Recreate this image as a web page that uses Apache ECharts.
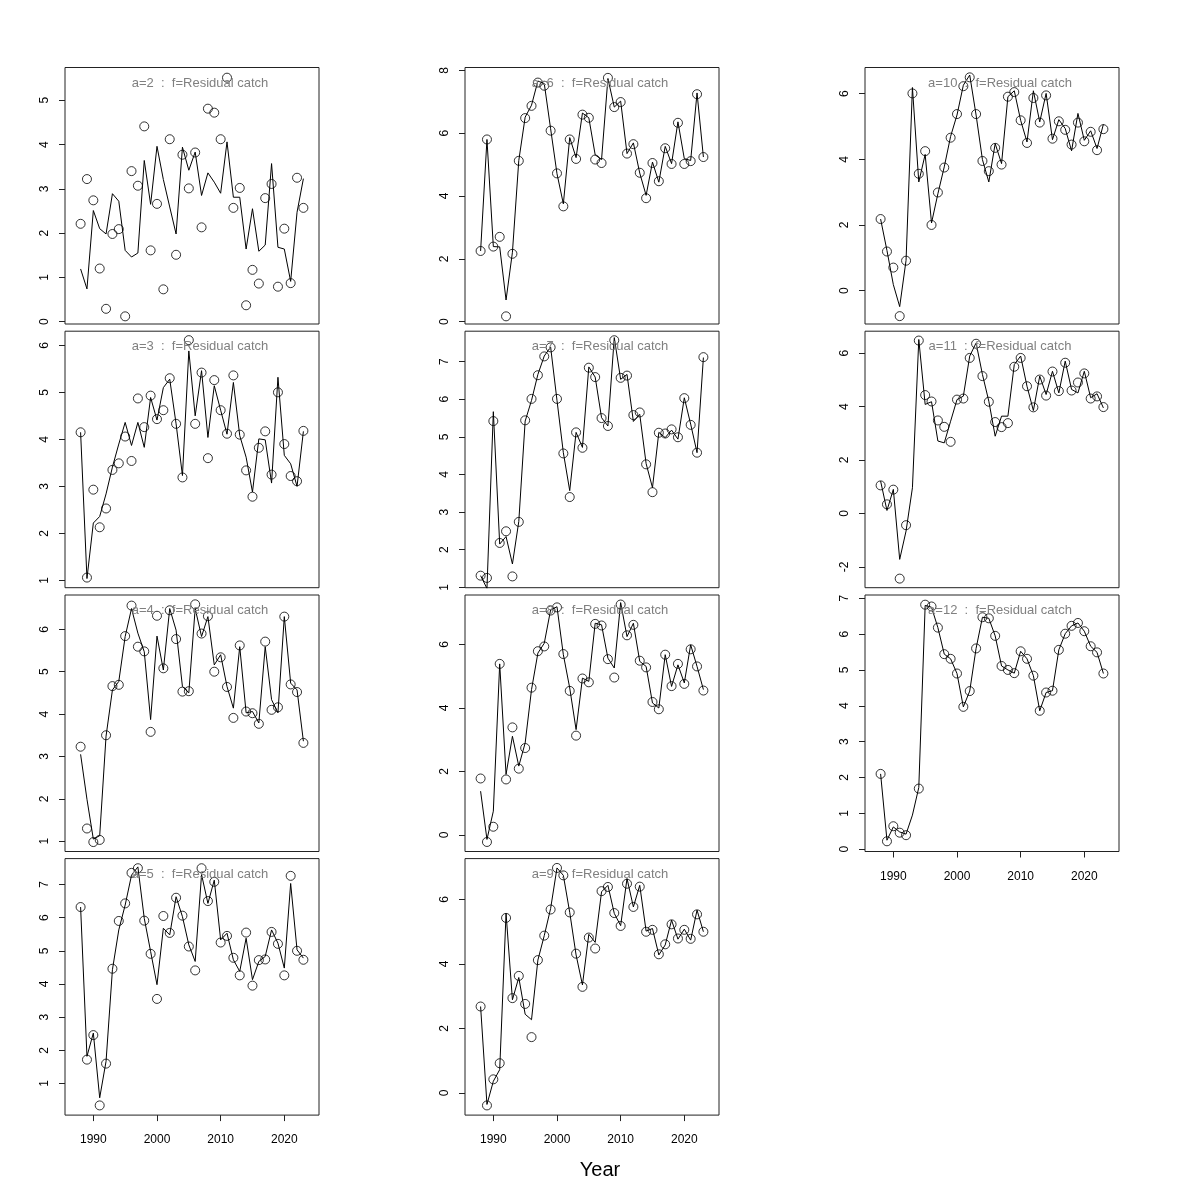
<!DOCTYPE html>
<html><head><meta charset="utf-8">
<script src="https://cdn.jsdelivr.net/npm/echarts@6/dist/echarts.min.js"></script>
<style>html,body{margin:0;padding:0;background:#fff}#c{width:1200px;height:1200px}</style>
</head><body><div id="c"></div>
<script>
// ---------------- data ----------------
const years = [1988,1989,1990,1991,1992,1993,1994,1995,1996,1997,1998,1999,2000,2001,2002,2003,2004,2005,2006,2007,2008,2009,2010,2011,2012,2013,2014,2015,2016,2017,2018,2019,2020,2021,2022,2023];
const xTicks = [1990,2000,2010,2020];

const obs_a2 = [2.21,3.22,2.74,1.20,0.29,1.98,2.09,0.12,3.40,3.07,4.41,1.61,2.66,0.73,4.12,1.51,3.77,3.01,3.82,2.13,4.81,4.72,4.12,5.51,2.57,3.02,0.37,1.17,0.86,2.79,3.11,0.79,2.10,0.87,3.25,2.57];
const fit_a2 = [1.19,0.74,2.51,2.10,1.98,2.89,2.72,1.61,1.46,1.55,3.64,2.65,3.96,3.21,2.59,1.98,3.94,3.42,3.83,2.85,3.36,3.15,2.90,4.06,2.81,2.81,1.64,2.55,1.59,1.73,3.57,1.68,1.64,0.91,2.47,3.23];
const ticks_a2 = [0,1,2,3,4,5];

const obs_a3 = [4.15,1.06,2.93,2.13,2.53,3.35,3.49,4.06,3.54,4.87,4.26,4.93,4.43,4.62,5.30,4.33,3.19,6.11,4.33,5.42,3.60,5.26,4.62,4.12,5.36,4.10,3.34,2.78,3.82,4.17,3.25,5.00,3.90,3.22,3.11,4.18];
const fit_a3 = [4.15,1.04,2.22,2.36,2.84,3.41,3.90,4.36,3.87,4.36,3.83,4.89,4.41,5.10,5.28,4.33,3.23,5.88,4.50,5.46,4.04,5.14,4.62,4.11,5.21,4.08,3.62,2.88,4.01,3.99,3.07,5.32,3.66,3.48,3.00,4.17];
const ticks_a3 = [1,2,3,4,5,6];

const obs_a4 = [3.23,1.30,0.98,1.03,3.50,4.66,4.69,5.84,6.56,5.59,5.48,3.58,6.32,5.08,6.45,5.77,4.53,4.54,6.59,5.90,6.31,5.00,5.34,4.64,3.91,5.62,4.06,4.02,3.77,5.71,4.10,4.16,6.30,4.70,4.52,3.32];
const fit_a4 = [3.05,1.99,1.05,1.13,3.48,4.57,4.77,5.83,6.49,5.91,5.47,3.87,5.84,5.04,6.49,5.98,4.65,4.50,6.49,5.83,6.30,5.16,5.40,4.65,4.14,5.59,4.03,4.06,3.79,5.59,4.34,4.03,6.30,4.73,4.57,3.36];
const ticks_a4 = [1,2,3,4,5,6];

const obs_a5 = [6.32,1.72,2.46,0.34,1.60,4.46,5.90,6.43,7.35,7.49,5.91,4.91,3.55,6.05,5.54,6.60,6.06,5.13,4.41,7.49,6.50,7.08,5.25,5.45,4.79,4.26,5.55,3.95,4.72,4.74,5.57,5.21,4.26,7.26,5.00,4.73];
const fit_a5 = [6.32,1.82,2.52,0.57,1.67,4.43,5.63,6.38,7.28,7.53,5.98,4.98,3.98,5.68,5.48,6.63,6.03,5.18,4.68,7.30,6.43,7.13,5.33,5.53,4.73,4.38,5.38,4.13,4.68,4.83,5.63,5.23,4.48,7.03,5.03,4.78];
const ticks_a5 = [1,2,3,4,5,6,7];

const obs_a6 = [2.25,5.80,2.39,2.70,0.17,2.16,5.12,6.48,6.87,7.61,7.51,6.08,4.72,3.67,5.80,5.18,6.59,6.49,5.16,5.05,7.76,6.83,6.99,5.35,5.65,4.74,3.93,5.05,4.47,5.52,5.02,6.33,5.02,5.11,7.24,5.24];
const fit_a6 = [2.25,5.80,2.39,2.38,0.69,2.21,5.13,6.51,6.89,7.66,7.58,6.14,4.71,3.75,5.86,5.22,6.64,6.49,5.31,5.16,7.74,6.83,7.02,5.35,5.69,4.73,4.02,5.08,4.44,5.58,5.03,6.36,5.19,5.13,7.28,5.24];
const ticks_a6 = [0,2,4,6,8];

const obs_a7 = [1.31,1.25,5.42,2.18,2.49,1.29,2.74,5.44,6.01,6.64,7.14,7.38,6.01,4.56,3.40,5.12,4.71,6.84,6.59,5.50,5.29,7.57,6.57,6.63,5.58,5.65,4.27,3.53,5.11,5.09,5.20,4.99,6.03,5.32,4.58,7.12];
const fit_a7 = [1.31,0.97,5.67,2.15,2.35,1.62,2.75,5.42,5.97,6.66,7.15,7.39,5.97,4.58,3.57,5.12,4.72,6.86,6.59,5.51,5.29,7.64,6.53,6.66,5.41,5.60,4.29,3.65,5.12,4.98,5.18,4.94,6.04,5.34,4.58,7.11];
const ticks_a7 = [1,2,3,4,5,6,7];

const obs_a8 = [1.78,-0.22,0.26,5.39,1.75,3.39,2.09,2.74,4.64,5.79,5.94,7.07,7.17,5.70,4.54,3.13,4.93,4.81,6.65,6.60,5.54,4.96,7.26,6.29,6.62,5.49,5.28,4.19,3.96,5.68,4.69,5.39,4.76,5.85,5.31,4.55];
const fit_a8 = [1.38,-0.14,0.75,5.39,1.91,3.11,2.17,2.90,4.58,5.73,6.04,7.09,7.19,5.68,4.63,3.32,4.94,4.84,6.67,6.62,5.57,5.26,7.32,6.25,6.67,5.47,5.31,4.16,4.00,5.68,4.68,5.36,4.79,5.99,5.31,4.58];
const ticks_a8 = [0,2,4,6];

const obs_a9 = [2.68,-0.39,0.42,0.92,5.43,2.94,3.63,2.76,1.73,4.12,4.88,5.69,6.98,6.75,5.60,4.32,3.29,4.82,4.48,6.26,6.39,5.58,5.18,6.49,5.77,6.40,5.00,5.06,4.30,4.61,5.23,4.79,5.06,4.78,5.54,5.00];
const fit_a9 = [2.68,-0.36,0.36,0.72,5.57,2.89,3.58,2.44,2.27,4.12,4.88,5.72,6.98,6.75,5.60,4.28,3.35,4.92,4.67,6.24,6.44,5.57,5.19,6.65,5.77,6.44,5.02,5.10,4.28,4.59,5.36,4.77,5.08,4.74,5.67,5.00];
const ticks_a9 = [0,2,4,6];

const obs_a10 = [2.18,1.19,0.70,-0.78,0.91,6.01,3.56,4.25,2.00,2.99,3.75,4.66,5.38,6.23,6.50,5.38,3.95,3.64,4.35,3.84,5.91,6.05,5.19,4.50,5.87,5.12,5.95,4.63,5.16,4.90,4.45,5.12,4.55,4.84,4.28,4.92];
const fit_a10 = [2.18,1.22,0.18,-0.49,0.92,6.19,3.31,4.15,2.06,2.95,3.77,4.70,5.35,6.26,6.57,5.35,3.99,3.31,4.48,3.87,5.91,6.09,5.19,4.53,6.09,5.14,6.01,4.60,5.21,4.94,4.26,5.40,4.58,4.87,4.33,5.07];
const ticks_a10 = [0,2,4,6];

const obs_a11 = [1.05,0.34,0.89,-2.44,-0.44,null,6.47,4.43,4.19,3.48,3.24,2.68,4.26,4.30,5.82,6.35,5.14,4.18,3.42,3.23,3.38,5.49,5.82,4.76,3.97,5.01,4.41,5.31,4.58,5.64,4.60,4.90,5.24,4.30,4.38,3.98];
const fit_a11 = [1.21,0.11,0.90,-1.72,-0.66,0.96,6.51,4.08,4.18,2.71,2.64,3.45,4.26,4.39,5.89,6.38,5.20,4.20,2.89,3.64,3.64,5.57,5.89,4.76,3.85,5.14,4.45,5.32,4.51,5.70,4.64,4.51,5.32,4.33,4.48,3.95];
const ticks_a11 = [-2,0,2,4,6];

const obs_a12 = [2.10,0.22,0.64,0.46,0.39,null,1.69,6.82,6.77,6.18,5.44,5.31,4.90,3.97,4.41,5.60,6.47,6.44,5.95,5.11,5.00,4.91,5.52,5.31,4.84,3.86,4.37,4.42,5.56,6.01,6.23,6.31,6.08,5.66,5.49,4.90];
const fit_a12 = [2.10,0.25,0.62,0.48,0.42,0.95,1.72,6.80,6.75,6.18,5.44,5.31,4.90,3.97,4.41,5.60,6.47,6.44,5.95,5.11,5.00,4.91,5.52,5.31,4.84,3.86,4.37,4.42,5.56,6.01,6.23,6.31,6.08,5.66,5.49,4.90];
const ticks_a12 = [0,1,2,3,4,5,6,7];

const titleSuffix = '  :  f=Residual catch';
const xTitle = 'Year';

// ---------------- layout ----------------
const panels = [
  {name:'a=2',  obs:obs_a2,  fit:fit_a2,  ticks:ticks_a2,  yr:[-0.053,5.74], col:0,row:0},
  {name:'a=3',  obs:obs_a3,  fit:fit_a3,  ticks:ticks_a3,  yr:[0.845,6.30],  col:0,row:1},
  {name:'a=4',  obs:obs_a4,  fit:fit_a4,  ticks:ticks_a4,  yr:[0.757,6.81],  col:0,row:2},
  {name:'a=5',  obs:obs_a5,  fit:fit_a5,  ticks:ticks_a5,  yr:[0.048,7.78],  col:0,row:3, bottom:true},
  {name:'a=6',  obs:obs_a6,  fit:fit_a6,  ticks:ticks_a6,  yr:[-0.074,8.09], col:1,row:0},
  {name:'a=7',  obs:obs_a7,  fit:fit_a7,  ticks:ticks_a7,  yr:[0.99,7.81],   col:1,row:1},
  {name:'a=8',  obs:obs_a8,  fit:fit_a8,  ticks:ticks_a8,  yr:[-0.52,7.56],  col:1,row:2},
  {name:'a=9',  obs:obs_a9,  fit:fit_a9,  ticks:ticks_a9,  yr:[-0.69,7.27],  col:1,row:3, bottom:true},
  {name:'a=10', obs:obs_a10, fit:fit_a10, ticks:ticks_a10, yr:[-1.02,6.80],  col:2,row:0},
  {name:'a=11', obs:obs_a11, fit:fit_a11, ticks:ticks_a11, yr:[-2.78,6.82],  col:2,row:1},
  {name:'a=12', obs:obs_a12, fit:fit_a12, ticks:ticks_a12, yr:[-0.065,7.09], col:2,row:2, bottom:true}
];
const colLeft = [65,465,865], rowTop = [67.5,331.2,595,858.6], W = 254, H = 256.5;
const FONT = '"Liberation Sans", Arial, Helvetica, sans-serif';

const grid=[], xAxis=[], yAxis=[], series=[], graphic=[];
panels.forEach((p,i)=>{
  const L = colLeft[p.col], T = rowTop[p.row];
  grid.push({left:L, top:T, width:W, height:H, show:true, borderColor:'#222', borderWidth:1, backgroundColor:'rgba(0,0,0,0)'});
  xAxis.push({type:'value', gridIndex:i, position:'bottom', min:1985.55, max:2025.45,
    axisLine:{show:false, onZero:false}, splitLine:{show:false},
    axisTick:{show:!!p.bottom, customValues:xTicks, length:6, lineStyle:{color:'#222'}},
    axisLabel:{show:!!p.bottom, customValues:xTicks, margin:19, fontSize:12, color:'#000', fontFamily:FONT,
      formatter:(v)=>String(v)}});
  yAxis.push({type:'value', gridIndex:i, position:'left', min:p.yr[0], max:p.yr[1],
    axisLine:{show:false, onZero:false}, splitLine:{show:false},
    axisTick:{show:true, customValues:p.ticks, length:6, lineStyle:{color:'#222'}},
    axisLabel:{customValues:p.ticks, rotate:90, margin:14, fontSize:12, color:'#000', fontFamily:FONT,
      formatter:(v)=>String(v)}});
  series.push({type:'line', xAxisIndex:i, yAxisIndex:i, symbol:'none', showSymbol:false,
    lineStyle:{color:'#000', width:1}, data: years.map((y,k)=>[y,p.fit[k]]), z:2});
  series.push({type:'scatter', xAxisIndex:i, yAxisIndex:i, symbol:'circle', symbolSize:9,
    itemStyle:{color:'rgba(0,0,0,0)', borderColor:'#000', borderWidth:1},
    data: years.map((y,k)=>[y,p.obs[k]]).filter(d=>d[1]!==null), z:3});
  graphic.push({type:'text', x:L+W/2+8, y:T+15.5, z:10,
    style:{text:p.name+titleSuffix, fill:'#808080', font:'13px '+FONT, textAlign:'center', textVerticalAlign:'middle'}});
});
graphic.push({type:'text', x:600, y:1170, style:{text:xTitle, fill:'#000', font:'20px '+FONT, textAlign:'center', textVerticalAlign:'middle'}});

const chart = echarts.init(document.getElementById('c'), null, {renderer:'canvas'});
chart.setOption({animation:false, backgroundColor:'#fff', grid, xAxis, yAxis, series, graphic});
</script></body></html>
